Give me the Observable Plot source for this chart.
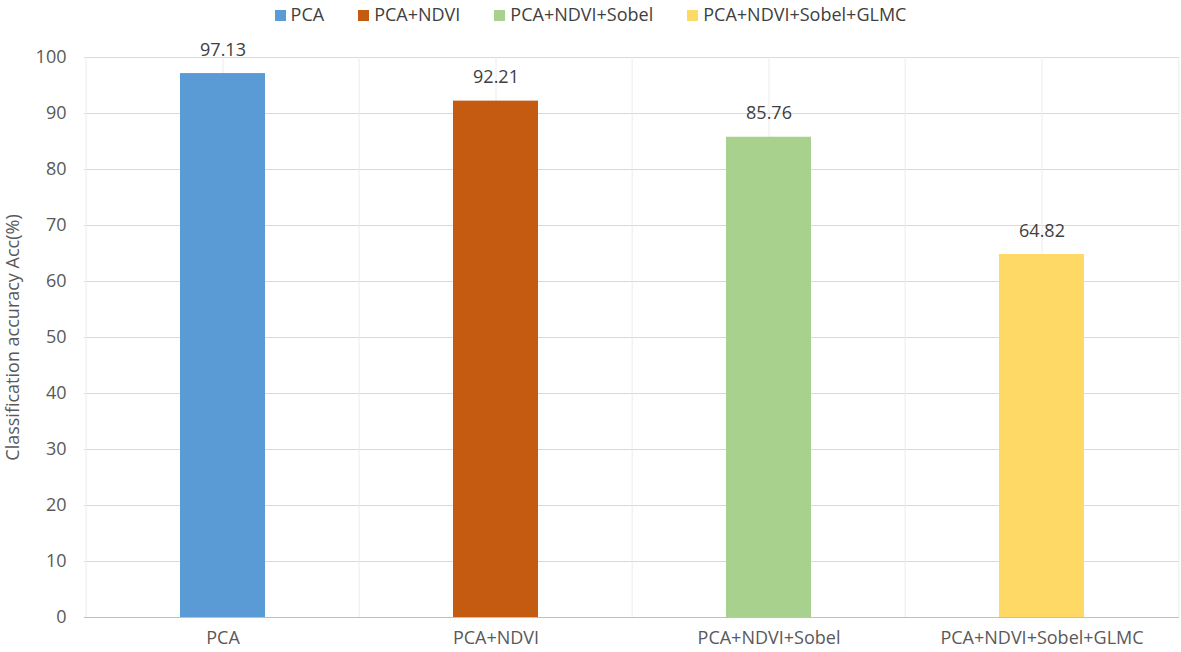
<!DOCTYPE html>
<html>
<head>
<meta charset="utf-8">
<script src="https://cdn.jsdelivr.net/npm/d3@7"></script>
<script src="https://cdn.jsdelivr.net/npm/@observablehq/plot@0.6"></script>
<style>
  body { margin: 0; background: #fff; font-family: "Open Sans", sans-serif; }
  #legend { height: 28px; display: flex; justify-content: center; align-items: center; gap: 34px; font-size: 18px; color: #404040; padding-left: 0px; }
  #legend span.sw { display: inline-block; width: 11px; height: 11px; margin-right: 5px; vertical-align: middle; position: relative; top: -1px; }
</style>
</head>
<body>
<div id="legend"></div>
<div id="chart"></div>
<script>
const categories = ["PCA", "PCA+NDVI", "PCA+NDVI+Sobel", "PCA+NDVI+Sobel+GLMC"];
const accuracy = [97.13, 92.21, 85.76, 64.82];
const colors = ["#5B9BD5", "#C55A11", "#A9D18E", "#FFD966"];
const yTicks = [0, 10, 20, 30, 40, 50, 60, 70, 80, 90, 100];

const data = categories.map((c, i) => ({category: c, value: accuracy[i], color: colors[i]}));

const legend = document.getElementById("legend");
categories.forEach((c, i) => {
  const item = document.createElement("div");
  item.innerHTML = `<span class="sw" style="background:${colors[i]}"></span>${c}`;
  legend.appendChild(item);
});

const W = 1181, H = 624;
const mL = 84, mR = 2;
const half = (W - mL - mR) / categories.length / 2;

const chart = Plot.plot({
  width: W,
  height: H,
  marginTop: 29,
  marginBottom: 35,
  marginLeft: mL,
  marginRight: mR,
  style: {fontFamily: "Open Sans, sans-serif", fontSize: "18px", color: "#595959", background: "#fff"},
  x: {domain: categories, paddingInner: 0.69, paddingOuter: 0.345, label: null},
  y: {domain: [0, 100], label: null},
  marks: [
    Plot.ruleY(yTicks, {stroke: "#d9d9d9", strokeWidth: 1}),
    Plot.ruleX(categories, {x: d => d, stroke: "#ececec", strokeWidth: 1, y1: 0, y2: 100}),
    Plot.ruleX(categories, {x: d => d, dx: -half, stroke: "#ececec", strokeWidth: 1, y1: 0, y2: 100}),
    Plot.ruleX(categories.slice(-1), {x: d => d, dx: half, stroke: "#ececec", strokeWidth: 1, y1: 0, y2: 100}),
    Plot.barY(data, {x: "category", y: "value", fill: "color"}),
    Plot.ruleY([0], {stroke: "#bfbfbf", strokeWidth: 1}),
    Plot.text(data, {x: "category", y: "value", text: d => d.value.toFixed(2), lineAnchor: "bottom", dy: -18, fill: "#404040", fontSize: 18}),
    Plot.axisY({ticks: yTicks, tickSize: 0, tickPadding: 18, tickFormat: d => d, label: "Classification accuracy Acc(%)", labelAnchor: "center", labelArrow: "none", labelOffset: 78, fontSize: 18, color: "#595959"}),
    Plot.axisX({tickSize: 0, tickPadding: 14, label: null, fontSize: 18, color: "#595959"})
  ]
});
document.getElementById("chart").appendChild(chart);
</script>
</body>
</html>
